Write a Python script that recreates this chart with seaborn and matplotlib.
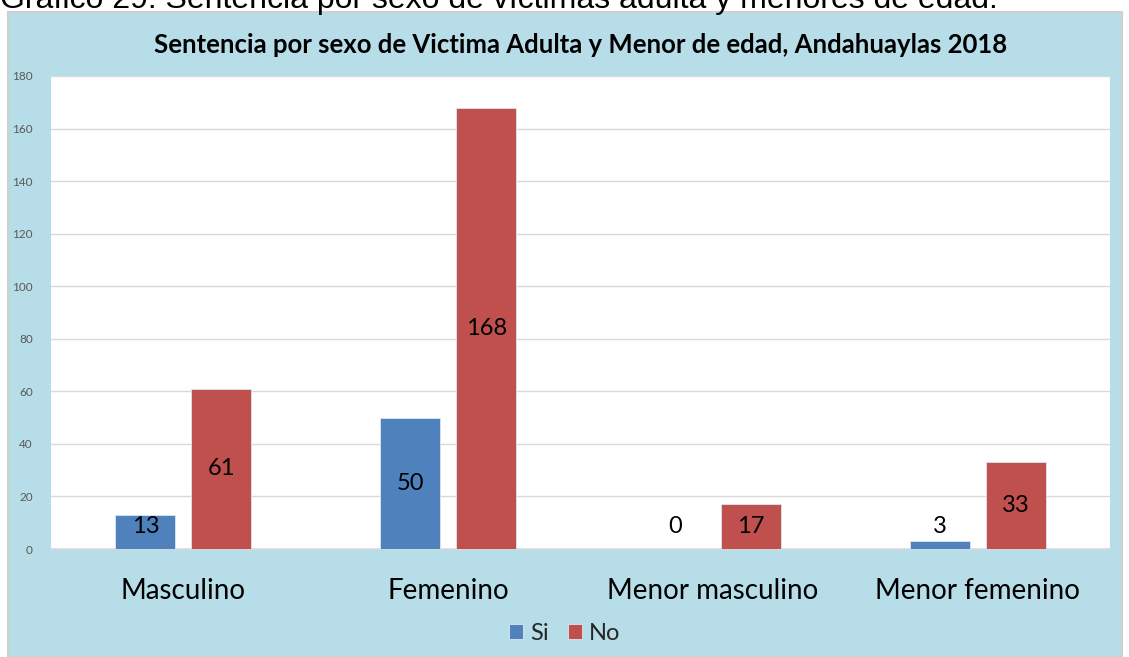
import numpy as np
import pandas as pd
import matplotlib
matplotlib.use("Agg")
import matplotlib.pyplot as plt
import seaborn as sns
from matplotlib.patches import Rectangle

# data
categories = ["Masculino", "Femenino", "Menor masculino", "Menor femenino"]
si_values = [13, 50, 0, 3]
no_values = [61, 168, 17, 33]
series_names = ["Si", "No"]
y_ticks = [0, 20, 40, 60, 80, 100, 120, 140, 160, 180]

title = "Sentencia por sexo de Victima Adulta y Menor de edad, Andahuaylas 2018"
caption = "Gráfico 29: Sentencia por sexo de víctimas adulta y menores de edad."

df = pd.DataFrame({
    "categoria": categories * 2,
    "serie": [series_names[0]] * 4 + [series_names[1]] * 4,
    "valor": si_values + no_values,
})

sns.set_theme(style="white")
plt.rcParams["font.family"] = ["Lato", "DejaVu Sans"]

W, H = 1129, 657
fig = plt.figure(figsize=(W / 100, H / 100), dpi=100)
fig.patch.set_facecolor("white")

# light blue chart area with grey border (behind the axes)
bg = Rectangle((8 / W, 0), (1122 - 8) / W, (H - 12) / H, transform=fig.transFigure,
               facecolor="#B7DDE8", edgecolor="#D0D0D0", linewidth=1.5, zorder=-10)
fig.patches.append(bg)

# caption cut off at the top of the picture, as in the source page
fig.text(0.0, 1 - 8 / H, caption, fontsize=23, family="Liberation Sans",
         va="baseline", ha="left", color="black", zorder=-5)

ax = fig.add_axes([51 / W, (H - 549) / H, (1110 - 51) / W, (549 - 76) / H])
ax.set_facecolor("white")

palette = {"Si": "#4F81BD", "No": "#C0504D"}
sns.barplot(data=df, x="categoria", y="valor", hue="serie", palette=palette,
            width=0.574, gap=0.21, saturation=1, ax=ax, legend=True, zorder=3,
            edgecolor="#DCE6F0", linewidth=0.6)

# value labels: centred in the bar, raised for short bars
for container, vals in zip(ax.containers, [si_values, no_values]):
    for bar, v in zip(container, vals):
        x = bar.get_x() + bar.get_width() / 2
        y = max(v / 2, 8.4)
        ax.text(x, y, str(v), ha="center", va="center", fontsize=17, color="black",
                zorder=5)

ax.set_ylim(0, 180)
ax.set_xlim(-0.5, 3.5)
ax.set_yticks(y_ticks)
ax.set_yticklabels([str(t) for t in y_ticks], fontsize=8.5, color="#595959")
ax.yaxis.grid(True, color="#D9D9D9", linewidth=1, zorder=0)
ax.set_axisbelow(True)
ax.tick_params(axis="y", length=0, pad=13)
ax.tick_params(axis="x", length=0, pad=21, labelsize=20)
for lab in ax.get_xticklabels():
    lab.set_color("black")
ax.set_xlabel("")
ax.set_ylabel("")
for side in ["top", "right", "left"]:
    ax.spines[side].set_visible(False)
ax.spines["bottom"].set_color("#D9D9D9")
ax.spines["bottom"].set_linewidth(1.2)

fig.text(0.5 * (51 + 1110) / W, 1 - 45 / H, title, ha="center", va="center",
         fontsize=18.5, fontweight="bold", color="black")

handles, labels = ax.get_legend_handles_labels()
ax.legend_.remove()
fig.legend(handles, labels, loc="center", bbox_to_anchor=(0.5, 1 - 633 / H), ncol=2,
           frameon=False, fontsize=17, handlelength=0.6, handleheight=0.6,
           handletextpad=0.3, columnspacing=0.8)

fig.savefig("out.png", dpi=100)
